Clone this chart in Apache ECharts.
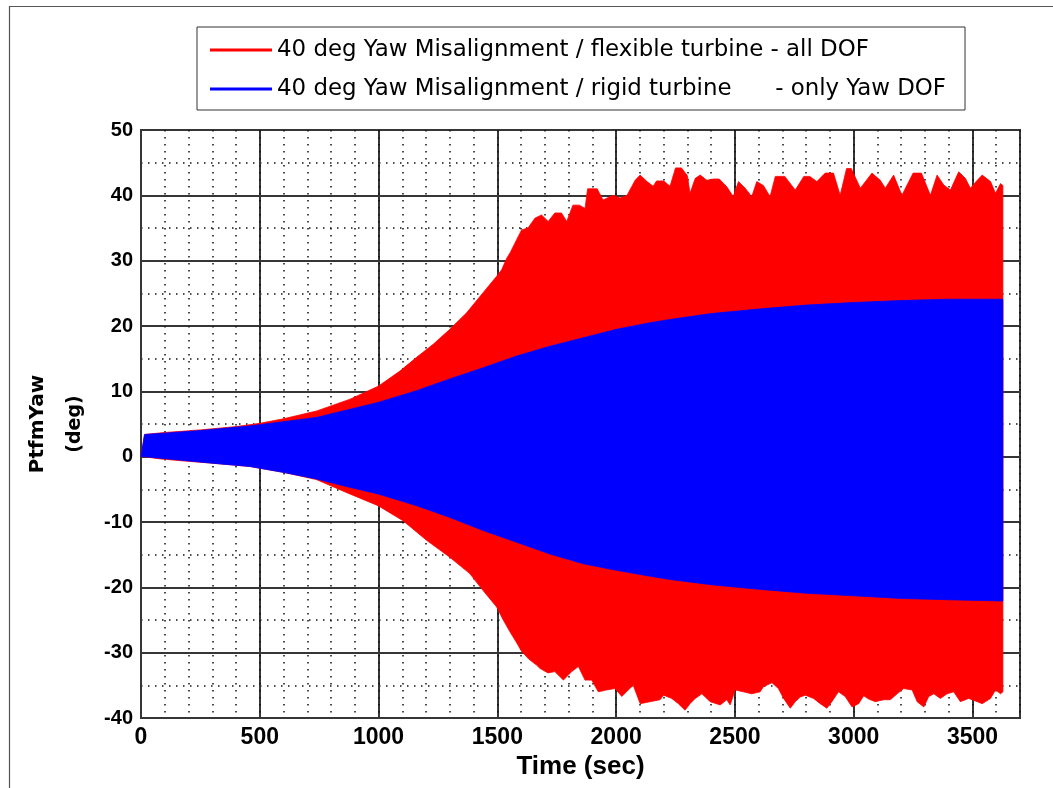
<!DOCTYPE html>
<html><head><meta charset="utf-8">
<script src="https://cdn.jsdelivr.net/npm/echarts@6/dist/echarts.min.js"></script>
<style>html,body{margin:0;padding:0;background:#fff}#c{width:1053px;height:788px}</style>
</head><body><div id="c"></div>
<script>
// ---- axis settings ----
const X_MIN = 0, X_MAX = 3700, X_STEP = 500, X_MINOR = 100;
const Y_MIN = -40, Y_MAX = 50, Y_STEP = 10;
const X_TITLE = 'Time (sec)';
const Y_TITLE = ['PtfmYaw', '(deg)'];
const LEGEND_NAMES = [
  '40 deg Yaw Misalignment / flexible turbine - all DOF',
  '40 deg Yaw Misalignment / rigid turbine      - only Yaw DOF'
];

// ---- envelopes [time (s), PtfmYaw (deg)] ----
const redUpper = [[0,0],[15,3.4],[100,3.7],[250,4.1],[400,4.6],[500,5.1],[600,5.8],[740,7.0],[880,8.8],[1000,10.8],[1090,13.1],[1160,15.2],[1230,17.2],[1300,19.5],[1370,22.0],[1440,25.1],[1497,27.6],[1518,28.6],[1540,30.4],[1555,31.3],[1581,33.2],[1602,34.7],[1629,35.0],[1658,36.5],[1686,37.0],[1714,36.0],[1742,37.3],[1770,37.3],[1792,36.0],[1818,38.5],[1845,38.5],[1869,38.0],[1880,41.0],[1920,41.0],[1945,39.3],[1987,40.0],[2016,39.6],[2046,40.0],[2080,42.3],[2101,43.1],[2130,42.1],[2156,41.4],[2170,42.2],[2200,42.2],[2227,41.4],[2250,44.2],[2275,44.2],[2300,43.0],[2311,40.3],[2333,42.6],[2354,43.1],[2382,42.3],[2410,42.5],[2434,42.5],[2466,41.3],[2493,39.8],[2515,42.1],[2543,41.1],[2571,39.8],[2592,42.1],[2620,41.5],[2648,39.8],[2670,42.9],[2710,42.9],[2754,40.8],[2790,42.9],[2815,42.9],[2845,42.1],[2880,43.4],[2915,43.4],[2943,40.0],[2970,44.1],[2990,44.1],[3028,41.1],[3077,43.4],[3112,42.3],[3133,41.1],[3168,43.1],[3203,40.0],[3250,43.4],[3285,43.4],[3323,40.0],[3351,43.1],[3379,41.6],[3407,40.8],[3442,43.6],[3470,42.6],[3491,41.1],[3520,42.3],[3541,43.1],[3576,42.1],[3597,40.3],[3618,41.8],[3628,41.5]];
const redLower = [[0,0],[15,0],[70,-0.3],[160,-0.6],[300,-1.0],[458,-1.5],[600,-2.4],[738,-3.5],[879,-5.7],[998,-7.5],[1103,-9.8],[1202,-12.8],[1300,-15.4],[1384,-17.9],[1440,-20.5],[1497,-23.0],[1525,-25.0],[1553,-26.8],[1580,-28.4],[1602,-29.8],[1633,-31.0],[1665,-31.9],[1679,-32.4],[1713,-33.1],[1742,-32.9],[1778,-34.2],[1813,-32.9],[1841,-32.1],[1869,-34.2],[1897,-34.2],[1925,-36.0],[1960,-35.7],[1995,-35.5],[2024,-36.7],[2051,-35.7],[2072,-35.0],[2101,-37.8],[2143,-37.5],[2185,-37.2],[2199,-36.5],[2234,-37.0],[2262,-37.8],[2290,-38.8],[2311,-37.8],[2333,-37.0],[2361,-36.3],[2396,-37.5],[2438,-38.0],[2466,-37.2],[2480,-38.0],[2501,-35.7],[2536,-36.0],[2571,-36.3],[2606,-36.0],[2620,-35.2],[2656,-34.6],[2683,-35.5],[2705,-37.0],[2733,-38.5],[2754,-37.5],[2775,-36.8],[2796,-36.5],[2831,-37.0],[2859,-37.8],[2887,-38.5],[2908,-37.5],[2936,-36.0],[2964,-36.7],[2993,-38.3],[3021,-37.8],[3042,-36.6],[3063,-37.1],[3091,-37.5],[3126,-37.2],[3154,-37.2],[3183,-36.3],[3210,-35.5],[3246,-35.7],[3267,-37.5],[3295,-38.3],[3316,-36.7],[3337,-36.3],[3365,-37.0],[3393,-36.3],[3421,-36.0],[3449,-37.5],[3484,-37.0],[3520,-37.5],[3541,-37.8],[3576,-37.0],[3597,-35.7],[3618,-36.3],[3628,-36.0]];
const blueUpper = [[0,0],[15,3.4],[100,3.6],[250,4.0],[458,4.7],[738,6.0],[998,8.3],[1160,10.1],[1300,11.9],[1440,13.6],[1581,15.4],[1721,16.9],[1862,18.2],[2002,19.5],[2143,20.5],[2227,21.0],[2400,21.9],[2600,22.6],[2800,23.2],[3000,23.6],[3200,23.9],[3400,24.1],[3628,24.1]];
const blueLower = [[0,0],[15,0],[160,-0.5],[300,-1.0],[458,-1.5],[598,-2.4],[738,-3.4],[879,-4.7],[998,-5.7],[1160,-7.5],[1300,-9.3],[1440,-11.3],[1581,-13.1],[1721,-14.9],[1862,-16.4],[2002,-17.4],[2143,-18.3],[2227,-18.8],[2400,-19.6],[2600,-20.3],[2800,-20.9],[3000,-21.3],[3200,-21.7],[3400,-21.9],[3628,-22.1]];

const RED = '#ff0000', BLUE = '#0000ff';
const GRID_C = '#363636';
const TICK_FONT = 'Liberation Sans';

// one filled band (upper edge forward, lower edge back) per simulation
function band(name, upper, lower, color) {
  const outline = upper.concat(lower.slice().reverse());
  return {
    type: 'custom', name: name, xAxisIndex: 0, yAxisIndex: 0,
    data: outline, encode: { x: 0, y: 1 },
    silent: true, animation: false, z: 2,
    itemStyle: { color: color },
    renderItem: function (params, api) {
      if (params.dataIndex !== 0) return null;
      const pts = outline.map(function (p) { return api.coord(p); });
      return {
        type: 'polygon',
        shape: { points: pts },
        style: { fill: color, stroke: color, lineWidth: 0.8 }
      };
    }
  };
}

const chart = echarts.init(document.getElementById('c'), null, { renderer: 'canvas' });
chart.setOption({
  backgroundColor: '#ffffff',
  animation: false,
  graphic: [{
    type: 'rect', left: 7, top: 4, z: -10, silent: true,
    shape: { width: 1200, height: 900 },
    style: { fill: 'none', stroke: '#555', lineWidth: 1.2 }
  }],
  grid: {
    left: 141, top: 130, width: 879, height: 588,
    show: true, borderColor: GRID_C, borderWidth: 2, backgroundColor: 'transparent'
  },
  legend: {
    data: LEGEND_NAMES, orient: 'vertical', left: 197, top: 27,
    padding: [10, 19, 8, 13], itemWidth: 62, itemHeight: 3, itemGap: 13,
    icon: 'rect', selectedMode: false,
    backgroundColor: '#fff', borderColor: '#333', borderWidth: 1,
    textStyle: { fontFamily: 'DejaVu Sans', fontSize: 22.9, color: '#000', lineHeight: 26 }
  },
  xAxis: [{
    type: 'value', min: X_MIN, max: X_MAX, interval: X_STEP, position: 'bottom',
    name: X_TITLE, nameLocation: 'middle', nameGap: 36,
    nameTextStyle: { fontFamily: TICK_FONT, fontWeight: 'bold', fontSize: 26, color: '#000' },
    axisLine: { show: true, onZero: false, lineStyle: { color: GRID_C, width: 2 } },
    axisTick: { show: false },
    axisLabel: { show: true, margin: 8, showMaxLabel: false, fontFamily: TICK_FONT, fontWeight: 'bold', fontSize: 23, color: '#000',
      formatter: function (v) { return String(v); } },
    splitLine: { show: true, lineStyle: { color: GRID_C, width: 2 } }
  }, {
    type: 'value', min: X_MIN, max: X_MAX, interval: X_MINOR, position: 'bottom', gridIndex: 0,
    axisLine: { show: false }, axisTick: { show: false }, axisLabel: { show: false },
    splitLine: { show: true, lineStyle: { color: '#111', width: 1.5, type: [1.5, 5.5] } }
  }],
  yAxis: [{
    type: 'value', min: Y_MIN, max: Y_MAX, interval: Y_STEP,
    name: '{a|' + Y_TITLE[0] + '}\n{b|' + Y_TITLE[1] + '}',
    nameLocation: 'middle', nameGap: 49,
    nameTextStyle: {
      rich: {
        a: { fontFamily: 'DejaVu Sans', fontWeight: 'bold', fontSize: 20, lineHeight: 40, color: '#000' },
        b: { fontFamily: 'DejaVu Sans', fontWeight: 'bold', fontSize: 19, lineHeight: 34, color: '#000' }
      }
    },
    axisLine: { show: true, onZero: false, lineStyle: { color: GRID_C, width: 2 } },
    axisTick: { show: false },
    axisLabel: { margin: 8, fontFamily: TICK_FONT, fontWeight: 'bold', fontSize: 20, color: '#000',
      formatter: function (v) { return String(v); } },
    splitLine: { show: true, lineStyle: { color: GRID_C, width: 2 } },
    minorTick: { show: false, splitNumber: 2 },
    minorSplitLine: { show: true, lineStyle: { color: '#111', width: 1.5, type: [1.5, 5.5] } }
  }],
  series: [
    band(LEGEND_NAMES[0], redUpper, redLower, RED),
    band(LEGEND_NAMES[1], blueUpper, blueLower, BLUE)
  ]
});
</script></body></html>
